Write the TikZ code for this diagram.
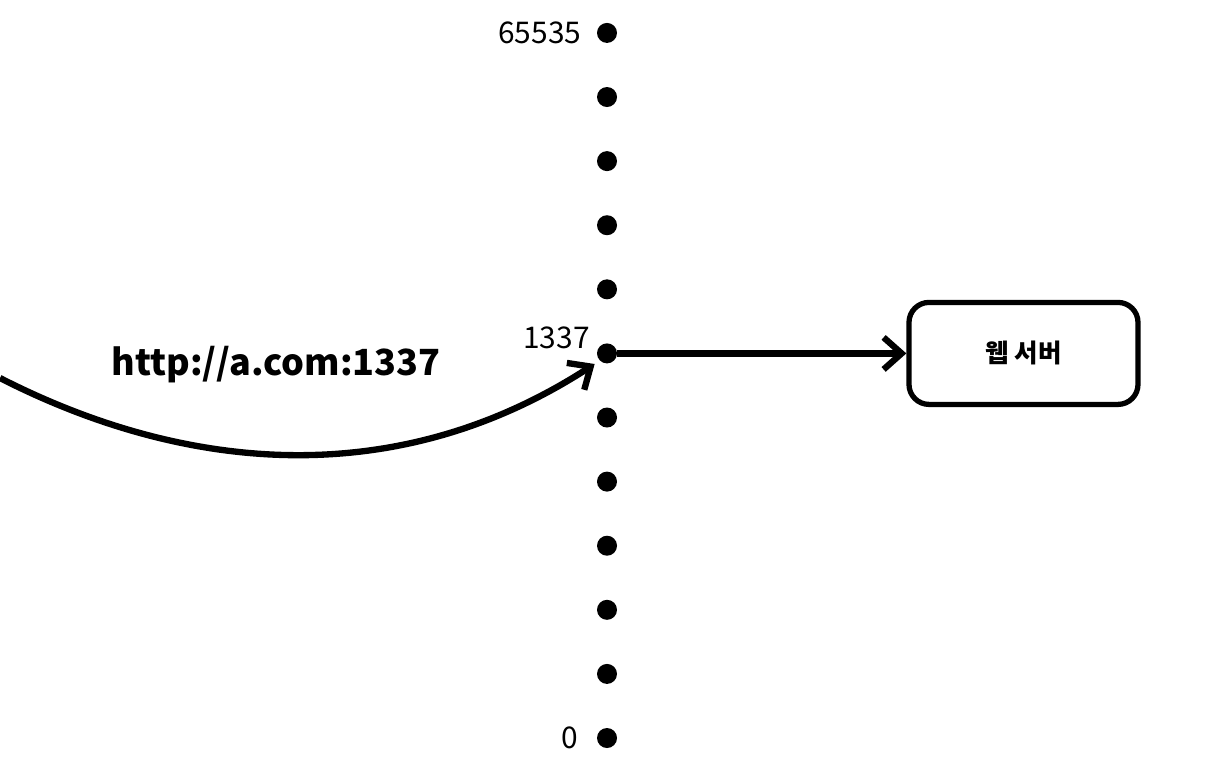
\documentclass[tikz,border=0pt]{standalone}
\usepackage{fontspec}
\setmainfont{Noto Sans CJK KR}
\usetikzlibrary{arrows.meta,positioning}

\begin{document}
\begin{tikzpicture}[
   port/.style={circle,fill,inner sep=0pt,minimum size=4mm},
   num/.style={font=\fontsize{17}{20}\selectfont,inner sep=0pt},
   server/.style={draw,rounded corners=4mm,line width=3pt,minimum width=4.58cm,minimum height=2.04cm,font=\bfseries\fontsize{14.5}{17}\selectfont},
   url/.style={font=\bfseries\fontsize{20.5}{24}\selectfont},
   link/.style={line width=3.6pt,-{Straight Barb[length=3.6mm,width=6.4mm]}}]
   \fill[white] (0,0) rectangle (24.52,-15.4);
   \useasboundingbox (0,0) rectangle (24.52,-15.4);
   \foreach \i in {0,...,11}
      \node[port] (p\i) at (12.14,{-14.76+1.282*\i}) {};
   \node[num] (top)  [left=0.3cm of p11] {65535};
   \node[num] (low)  [left=0.36cm of p0] {0};
   \node[num,anchor=east] (mid) at ([shift={(-0.34cm,0.32cm)}]p6.center) {1337};
   \node[server] (web) [right=5.78cm of p6] {웹 서버};
   \node[url] (addr) at (5.52,-7.3) {http://a.com:1337};
   \coordinate (src) at (0,-7.56);
   \draw[link] (p6) -- (web);
   \draw[link,shorten >=1.2mm] (src) .. controls (3.8,-9.5) and (8,-9.8) .. (p6.south west);
\end{tikzpicture}
\end{document}
